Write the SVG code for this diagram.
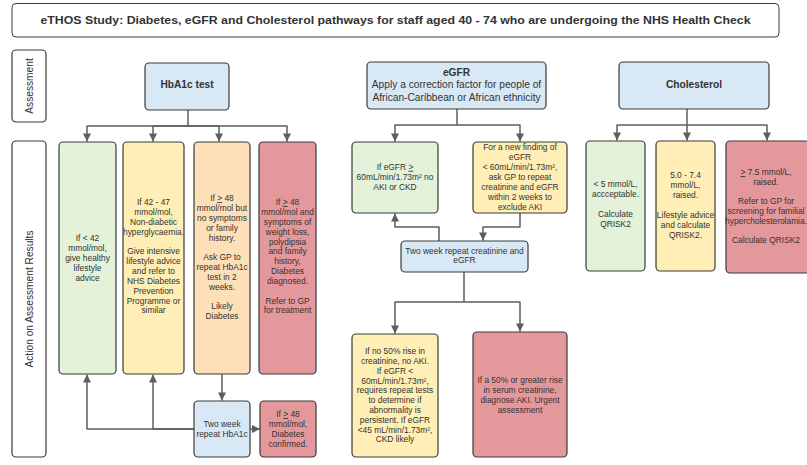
<svg xmlns="http://www.w3.org/2000/svg" width="807" height="465" viewBox="0 0 807 465">
<defs>
<style>
.box{stroke:#3a3a3a;stroke-width:1.2}
.blue{fill:#d9e8f5}.green{fill:#e3f2d9}.yellow{fill:#ffefb6}.orange{fill:#fde0b8}.red{fill:#e5989c}.white{fill:#ffffff}
.t{font-family:"Liberation Sans",Arial,sans-serif;font-size:8.4px;fill:#333;text-anchor:middle}
.h{font-family:"Liberation Sans",Arial,sans-serif;font-size:10.2px;fill:#333;text-anchor:middle}
.b{font-weight:bold}
.c{fill:none;stroke:#5e5e5e;stroke-width:1.5;stroke-linejoin:round}
.u{text-decoration:underline}
</style>
<marker id="ah" markerUnits="userSpaceOnUse" markerWidth="10" markerHeight="10" viewBox="0 0 10 10" refX="9" refY="5" orient="auto">
<path d="M1,1 L9,5 L1,9 Z" fill="#5e5e5e"/>
</marker>
</defs>
<rect width="807" height="465" fill="#ffffff"/>

<g id="title">
<rect x="12" y="3.5" width="767" height="33.5" rx="4" fill="#fff" stroke="#3a3a3a" stroke-width="1"/>
<text x="395.5" y="24" class="h b" style="font-size:11px" textLength="710" lengthAdjust="spacingAndGlyphs">eTHOS Study: Diabetes, eGFR and Cholesterol pathways for staff aged 40 - 74 who are undergoing the NHS Health Check</text>
</g>

<g id="lane-assessment">
<rect x="12" y="50" width="34" height="72" rx="4" class="box white"/>
<text class="h" transform="translate(32.5,86) rotate(-90)">Assessment</text>
</g>
<g id="lane-action">
<rect x="12" y="141" width="34" height="316" rx="4" class="box white"/>
<text class="h" transform="translate(32.5,299) rotate(-90)">Action on Assessment Results</text>
</g>

<g id="connectors">
<path class="c" d="M188,110 V126"/>
<path class="c" d="M188,126 H87 V141.5" marker-end="url(#ah)"/>
<path class="c" d="M188,126 H153 V141.5" marker-end="url(#ah)"/>
<path class="c" d="M188,126 H219 V141.5" marker-end="url(#ah)"/>
<path class="c" d="M188,126 H287 V141.5" marker-end="url(#ah)"/>
<path class="c" d="M222,374 V400.5" marker-end="url(#ah)"/>
<path class="c" d="M194,429 H87 V374.5" marker-end="url(#ah)"/>
<path class="c" d="M194,429 H153 V374.5" marker-end="url(#ah)"/>
<path class="c" d="M250,429 H260" marker-end="url(#ah)"/>

<path class="c" d="M457,109 V125"/>
<path class="c" d="M457,125 H395 V141.5" marker-end="url(#ah)"/>
<path class="c" d="M457,125 H520 V141.5" marker-end="url(#ah)"/>
<path class="c" d="M439,241 V227 H395 V213.5" marker-end="url(#ah)"/>
<path class="c" d="M520,213 V227 H483 V240.5" marker-end="url(#ah)"/>
<path class="c" d="M464,272 V302"/>
<path class="c" d="M464,302 H395 V333.5" marker-end="url(#ah)"/>
<path class="c" d="M464,302 H520 V331.5" marker-end="url(#ah)"/>

<path class="c" d="M687,109 V125"/>
<path class="c" d="M687,125 H617 V140.5" marker-end="url(#ah)"/>
<path class="c" d="M687,125 V140.5" marker-end="url(#ah)"/>
<path class="c" d="M687,125 H767 V140.5" marker-end="url(#ah)"/>
</g>

<g id="hba1c">
<rect x="145" y="63" width="84" height="47" rx="4" class="box blue"/>
<text x="187" y="88" class="h b">HbA1c test</text>
</g>

<g id="hba1c-low">
<rect x="59" y="142" width="57" height="232" rx="4" class="box green"/>
<text class="t" x="87.5" y="241.3"><tspan x="87.5">If &lt; 42</tspan><tspan x="87.5" dy="9.85">mmol/mol,</tspan><tspan x="87.5" dy="9.85">give healthy</tspan><tspan x="87.5" dy="9.85">lifestyle</tspan><tspan x="87.5" dy="9.85">advice</tspan></text>
</g>

<g id="hba1c-prediabetes">
<rect x="123" y="142" width="61" height="232" rx="4" class="box yellow"/>
<text class="t" x="153.5" y="205.1"><tspan x="153.5">If 42 - 47</tspan><tspan x="153.5" dy="9.85">mmol/mol,</tspan><tspan x="153.5" dy="9.85">Non-diabetic</tspan><tspan x="153.5" dy="9.85">hyperglycaemia.</tspan><tspan x="153.5" dy="19.7">Give intensive</tspan><tspan x="153.5" dy="9.85">lifestyle advice</tspan><tspan x="153.5" dy="9.85">and refer to</tspan><tspan x="153.5" dy="9.85">NHS Diabetes</tspan><tspan x="153.5" dy="9.85">Prevention</tspan><tspan x="153.5" dy="9.85">Programme or</tspan><tspan x="153.5" dy="9.85">similar</tspan></text>
</g>

<g id="hba1c-likely">
<rect x="194" y="142" width="56" height="232" rx="4" class="box orange"/>
<text class="t" x="222" y="201.1"><tspan x="222">If <tspan class="u">&gt;</tspan> 48</tspan><tspan x="222" dy="9.85">mmol/mol but</tspan><tspan x="222" dy="9.85">no symptoms</tspan><tspan x="222" dy="9.85">or family</tspan><tspan x="222" dy="9.85">history.</tspan><tspan x="222" dy="19.7">Ask GP to</tspan><tspan x="222" dy="9.85">repeat HbA1c</tspan><tspan x="222" dy="9.85">test in 2</tspan><tspan x="222" dy="9.85">weeks.</tspan><tspan x="222" dy="19.7">Likely</tspan><tspan x="222" dy="9.85">Diabetes</tspan></text>
</g>

<g id="hba1c-diagnosed">
<rect x="259" y="142" width="57" height="232" rx="4" class="box red"/>
<text class="t" x="287.5" y="205.1"><tspan x="287.5">If <tspan class="u">&gt;</tspan> 48</tspan><tspan x="287.5" dy="9.85">mmol/mol and</tspan><tspan x="287.5" dy="9.85">symptoms of</tspan><tspan x="287.5" dy="9.85">weight loss,</tspan><tspan x="287.5" dy="9.85">polydipsia</tspan><tspan x="287.5" dy="9.85">and family</tspan><tspan x="287.5" dy="9.85">history,</tspan><tspan x="287.5" dy="9.85">Diabetes</tspan><tspan x="287.5" dy="9.85">diagnosed.</tspan><tspan x="287.5" dy="19.7">Refer to GP</tspan><tspan x="287.5" dy="9.85">for treatment</tspan></text>
</g>

<g id="hba1c-repeat">
<rect x="194" y="401" width="56" height="56" rx="4" class="box blue"/>
<text class="t" x="222" y="427.1"><tspan x="222">Two week</tspan><tspan x="222" dy="9.85">repeat HbA1c</tspan></text>
</g>

<g id="hba1c-confirmed">
<rect x="260" y="401" width="56" height="56" rx="4" class="box red"/>
<text class="t" x="288" y="417.1"><tspan x="288">If <tspan class="u">&gt;</tspan> 48</tspan><tspan x="288" dy="9.85">mmol/mol,</tspan><tspan x="288" dy="9.85">Diabetes</tspan><tspan x="288" dy="9.85">confirmed.</tspan></text>
</g>

<g id="egfr">
<rect x="367" y="62" width="179" height="47" rx="4" class="box blue"/>
<text class="h" x="456.5" y="75.7"><tspan x="456.5" class="b">eGFR</tspan><tspan x="456.5" dy="12.6">Apply a correction factor for people of</tspan><tspan x="456.5" dy="12.6">African-Caribbean or African ethnicity</tspan></text>
</g>

<g id="egfr-normal">
<rect x="352" y="142" width="86" height="71" rx="4" class="box green"/>
<text class="t" x="395" y="169.8"><tspan x="395">If eGFR <tspan class="u">&gt;</tspan></tspan><tspan x="395" dy="10">60mL/min/1.73m² no</tspan><tspan x="395" dy="10">AKI or CKD</tspan></text>
</g>

<g id="egfr-low">
<rect x="473" y="142" width="94" height="71" rx="4" class="box yellow"/>
<text class="t" x="520" y="149.8"><tspan x="520">For a new finding of</tspan><tspan x="520" dy="10">eGFR</tspan><tspan x="520" dy="10">&lt; 60mL/min/1.73m²,</tspan><tspan x="520" dy="10">ask GP to repeat</tspan><tspan x="520" dy="10">creatinine and eGFR</tspan><tspan x="520" dy="10">within 2 weeks to</tspan><tspan x="520" dy="10">exclude AKI</tspan></text>
</g>

<g id="egfr-repeat">
<rect x="401" y="241" width="127" height="31" rx="4" class="box blue"/>
<text class="t" x="464.5" y="253.8"><tspan x="464.5">Two week repeat creatinine and</tspan><tspan x="464.5" dy="9.6">eGFR</tspan></text>
</g>

<g id="egfr-ckd">
<rect x="352" y="334" width="86" height="123" rx="4" class="box yellow"/>
<text class="t" x="395" y="354.1"><tspan x="395">If no 50% rise in</tspan><tspan x="395" dy="9.8">creatinine, no AKI.</tspan><tspan x="395" dy="9.8">If eGFR &lt;</tspan><tspan x="395" dy="9.8">60mL/min/1.73m²,</tspan><tspan x="395" dy="9.8">requires repeat tests</tspan><tspan x="395" dy="9.8">to determine if</tspan><tspan x="395" dy="9.8">abnormality is</tspan><tspan x="395" dy="9.8">persistent.  If eGFR</tspan><tspan x="395" dy="9.8">&lt;45 mL/min/1.73m²,</tspan><tspan x="395" dy="9.8">CKD likely</tspan></text>
</g>

<g id="egfr-aki">
<rect x="473" y="332" width="94" height="125" rx="4" class="box red"/>
<text class="t" x="520" y="383.1"><tspan x="520">If a 50% or greater rise</tspan><tspan x="520" dy="10">in serum creatinine,</tspan><tspan x="520" dy="10">diagnose AKI. Urgent</tspan><tspan x="520" dy="10">assessment</tspan></text>
</g>

<g id="cholesterol">
<rect x="619" y="62" width="150" height="47" rx="4" class="box blue"/>
<text x="694" y="87.7" class="h b">Cholesterol</text>
</g>

<g id="chol-ok">
<rect x="586" y="141" width="59" height="130" rx="4" class="box green"/>
<text class="t" x="615.5" y="187.1"><tspan x="615.5">&lt; 5 mmol/L,</tspan><tspan x="615.5" dy="10">accceptable.</tspan><tspan x="615.5" dy="20">Calculate</tspan><tspan x="615.5" dy="10">QRISK2</tspan></text>
</g>

<g id="chol-raised">
<rect x="656" y="141" width="59" height="130" rx="4" class="box yellow"/>
<text class="t" x="685.5" y="178.1"><tspan x="685.5">5.0 - 7.4</tspan><tspan x="685.5" dy="10">mmol/L,</tspan><tspan x="685.5" dy="10">raised.</tspan><tspan x="685.5" dy="19.5">Lifestyle advice</tspan><tspan x="685.5" dy="10">and calculate</tspan><tspan x="685.5" dy="10">QRISK2.</tspan></text>
</g>

<g id="chol-high">
<rect x="726" y="141" width="86" height="132" rx="4" class="box red"/>
<text class="t" x="766" y="175.1"><tspan x="766"><tspan class="u">&gt;</tspan> 7.5 mmol/L,</tspan><tspan x="766" dy="9.7">raised.</tspan><tspan x="766" dy="19.4">Refer to GP for</tspan><tspan x="766" dy="9.7">screening for familial</tspan><tspan x="766" dy="9.7">hypercholesterolamia.</tspan><tspan x="766" dy="19.4">Calculate QRISK2</tspan></text>
</g>
</svg>
